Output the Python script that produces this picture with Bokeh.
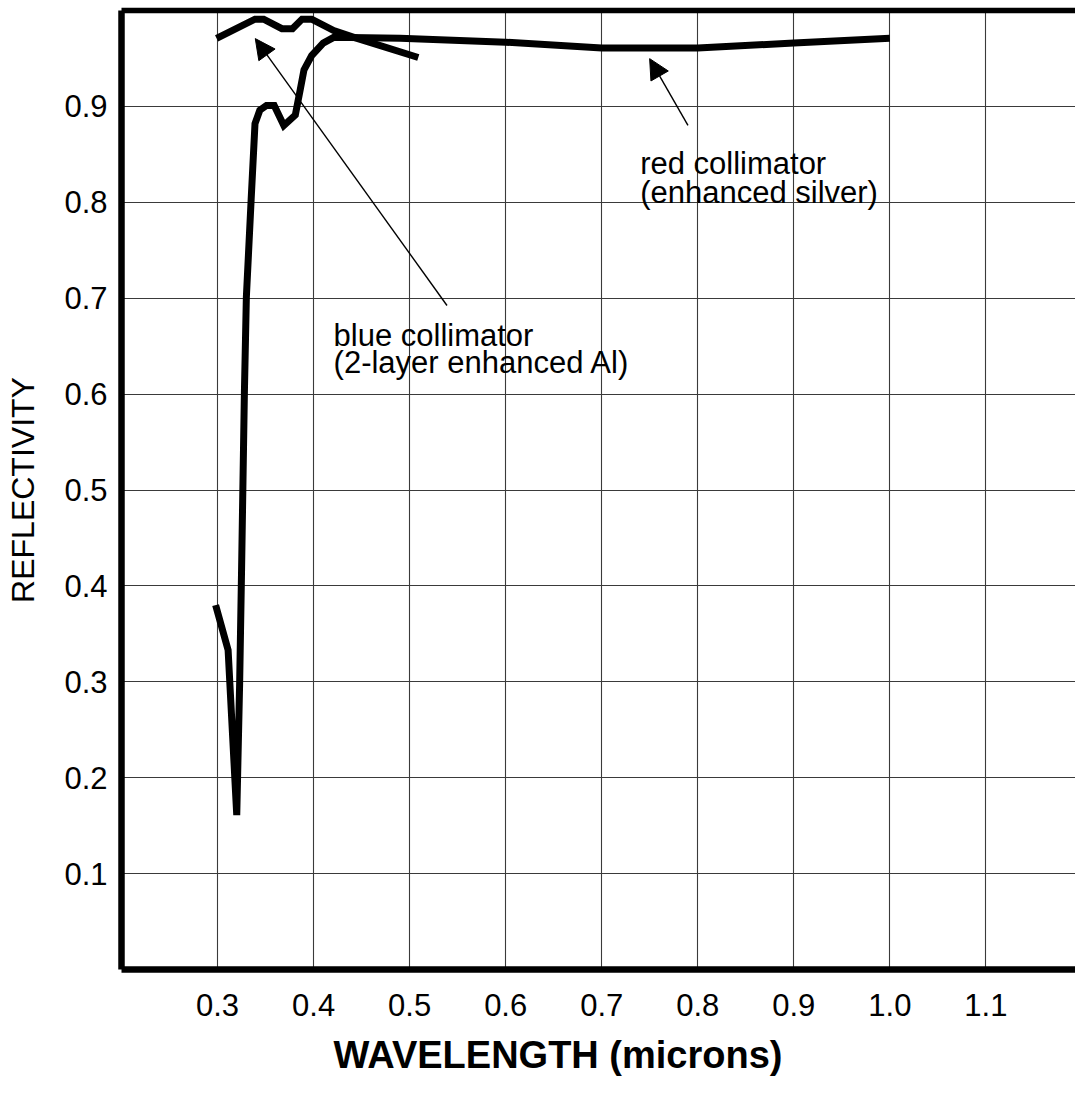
from bokeh.plotting import figure
from bokeh.models import (FixedTicker, LinearAxis, Label, Arrow, NormalHead,
                          Range1d, NumeralTickFormatter, Title)
from bokeh.embed import file_html
from bokeh.resources import INLINE

# Enhanced-silver coating (red collimator)
silver_wavelength = [0.298, 0.311, 0.320, 0.323, 0.325, 0.328, 0.330, 0.335,
                     0.339, 0.344, 0.351, 0.359, 0.369, 0.381, 0.386, 0.390,
                     0.398, 0.410, 0.421, 0.490, 0.600, 0.700, 0.800, 0.900, 1.000]
silver_reflectivity = [0.380, 0.333, 0.161, 0.298, 0.416, 0.604, 0.701, 0.803,
                       0.882, 0.896, 0.901, 0.901, 0.880, 0.891, 0.917, 0.938,
                       0.953, 0.966, 0.972, 0.971, 0.967, 0.961, 0.961, 0.966, 0.971]

# Two-layer enhanced aluminium coating (blue collimator)
al_wavelength = [0.299, 0.339, 0.348, 0.367, 0.378, 0.388, 0.398, 0.421, 0.442, 0.509]
al_reflectivity = [0.971, 0.991, 0.991, 0.981, 0.981, 0.991, 0.991, 0.979, 0.972, 0.951]

x_ticks = [0.3, 0.4, 0.5, 0.6, 0.7, 0.8, 0.9, 1.0, 1.1]
x_tick_labels = ["0.3", "0.4", "0.5", "0.6", "0.7", "0.8", "0.9", "1.0", "1.1"]
y_ticks = [0.1, 0.2, 0.3, 0.4, 0.5, 0.6, 0.7, 0.8, 0.9]
y_tick_labels = ["0.1", "0.2", "0.3", "0.4", "0.5", "0.6", "0.7", "0.8", "0.9"]

FONT = "Liberation Sans"
TEXT_SIZE = "31px"

p = figure(width=1075, height=1100, output_backend="svg", toolbar_location=None,
           x_range=Range1d(0.2, 1.1933), y_range=Range1d(0.0, 1.0),
           min_border_left=121, min_border_right=0, min_border_top=10,
           min_border_bottom=131)
p.outline_line_color = None
p.background_fill_color = "white"
p.border_fill_color = "white"

# grid
p.xgrid.ticker = FixedTicker(ticks=x_ticks)
p.ygrid.ticker = FixedTicker(ticks=y_ticks)
for g in (p.xgrid, p.ygrid):
    g.grid_line_color = "#3a3a3a"
    g.grid_line_width = 1.1

# axes
for ax in (p.xaxis[0], p.yaxis[0]):
    ax.axis_line_width = 6.5
    ax.axis_line_color = "black"
    ax.major_tick_line_color = None
    ax.minor_tick_line_color = None
    ax.major_tick_out = 0
    ax.major_tick_in = 0
    ax.major_label_text_font = FONT
    ax.major_label_text_font_size = TEXT_SIZE
    ax.major_label_text_color = "black"
    ax.formatter = NumeralTickFormatter(format="0.0")

p.xaxis[0].ticker = FixedTicker(ticks=x_ticks)
p.xaxis[0].major_label_overrides = dict(zip(x_ticks, x_tick_labels))
p.xaxis[0].major_label_standoff = 24

p.yaxis[0].ticker = FixedTicker(ticks=y_ticks)
p.yaxis[0].major_label_overrides = dict(zip(y_ticks, y_tick_labels))
p.yaxis[0].major_label_standoff = 14
p.yaxis[0].axis_label = "REFLECTIVITY"
p.yaxis[0].axis_label_text_font = FONT
p.yaxis[0].axis_label_text_font_size = "32px"
p.yaxis[0].axis_label_text_font_style = "normal"
p.yaxis[0].axis_label_text_color = "black"
p.yaxis[0].axis_label_standoff = 20

# heavy top border
top = LinearAxis(ticker=FixedTicker(ticks=[]), axis_line_width=5.5,
                 axis_line_color="black", major_tick_line_color=None,
                 minor_tick_line_color=None, major_tick_out=0,
                 major_label_standoff=0, major_label_text_font_size="0px")
p.add_layout(top, "above")

# x-axis title
p.add_layout(Title(text="WAVELENGTH (microns)", text_font=FONT,
                   text_font_size="38px", text_font_style="bold",
                   text_color="black", align="left", offset=212,
                   standoff=26), "below")

# reflectivity curves
p.line(silver_wavelength, silver_reflectivity, line_color="black",
       line_width=7, line_join="miter")
p.line(al_wavelength, al_reflectivity, line_color="black",
       line_width=7, line_join="miter")

# callouts
blue_tip, blue_tail = (0.3393, 0.9707), (0.5389, 0.6924)
red_tip, red_tail = (0.7499, 0.9498), (0.7898, 0.8803)
for tip, tail in ((blue_tip, blue_tail), (red_tip, red_tail)):
    p.add_layout(Arrow(end=NormalHead(size=20, fill_color="black",
                                      line_color="black", line_width=1),
                       x_start=tail[0], y_start=tail[1], x_end=tip[0], y_end=tip[1],
                       line_color="black", line_width=1.4))

notes = [
    (0.4208, 0.6613, "blue collimator"),
    (0.4208, 0.6330, "(2-layer enhanced Al)"),
    (0.7400, 0.8407, "red collimator"),
    (0.7400, 0.8105, "(enhanced silver)"),
]
for x, y, t in notes:
    p.add_layout(Label(x=x, y=y, text=t, text_font=FONT, text_font_size=TEXT_SIZE,
                       text_color="black", text_baseline="alphabetic",
                       text_align="left"))

open("out.html", "w").write(file_html(p, INLINE))
